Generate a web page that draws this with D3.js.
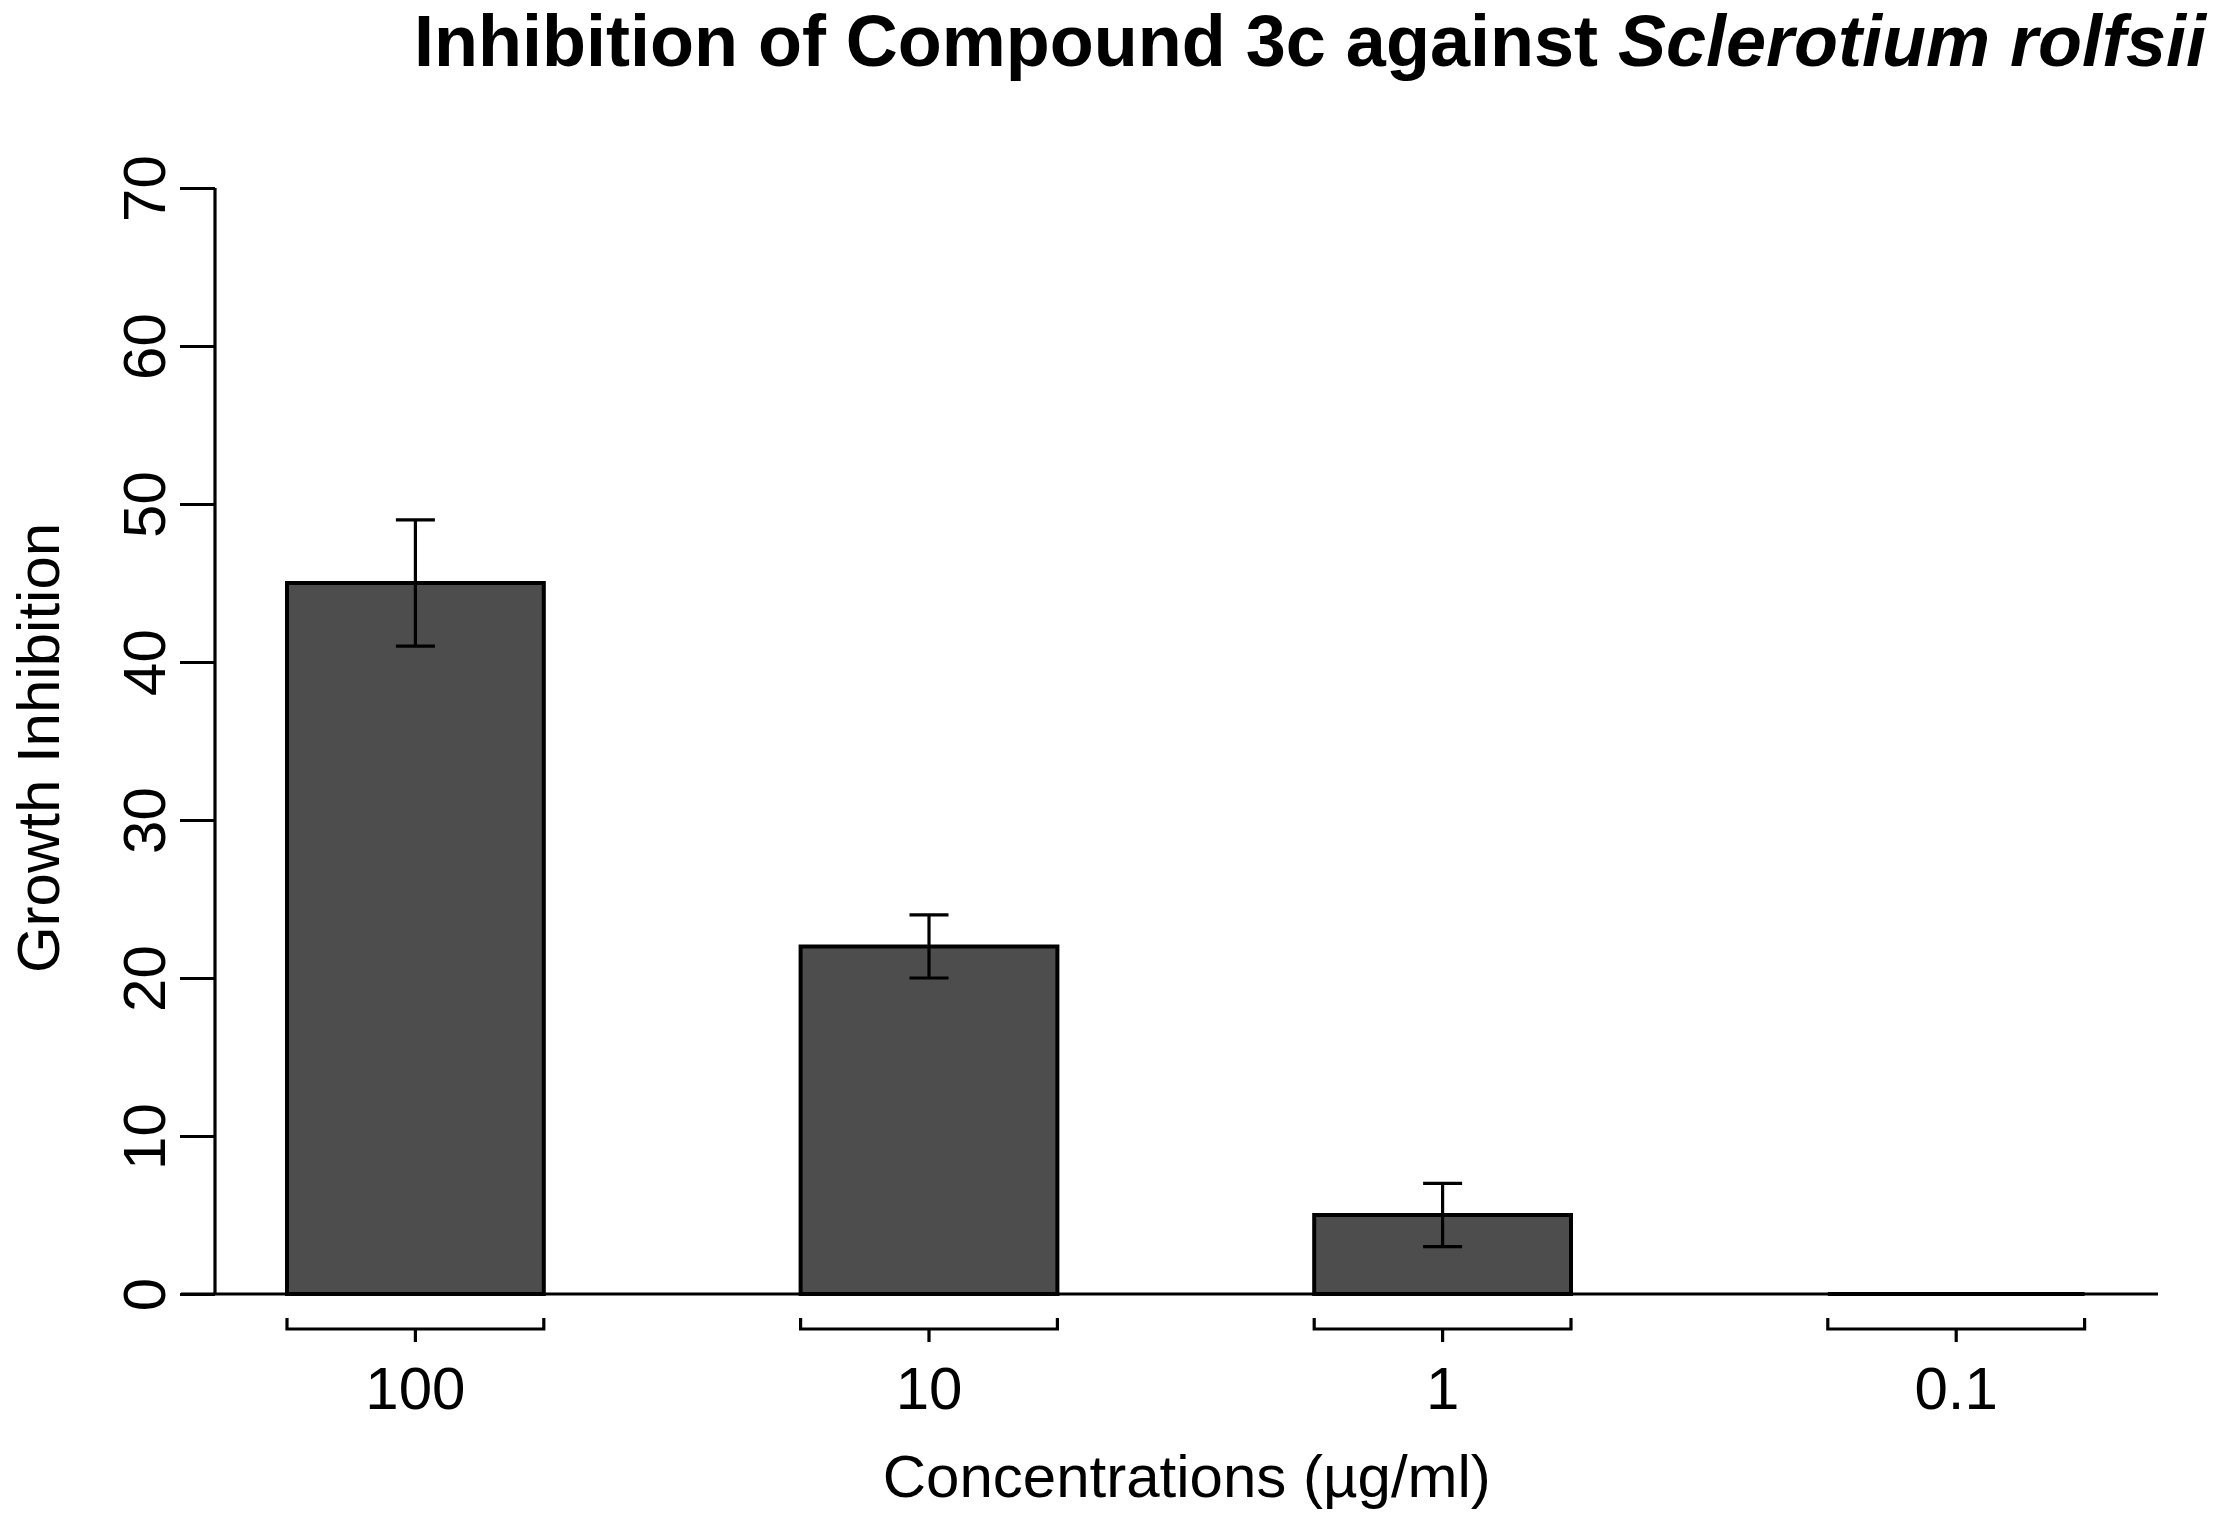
<!DOCTYPE html>
<html>
<head>
<meta charset="utf-8">
<script src="https://cdn.jsdelivr.net/npm/d3@7"></script>
<style>
  body { margin: 0; background: #fff; }
  text { font-family: "Liberation Sans", Arial, sans-serif; fill: #000; }
</style>
</head>
<body>
<div id="chart"></div>
<script>
// data
var concentrations = ["100", "10", "1", "0.1"]
var inhibition = [45, 22, 5, 0]
var errors = [4, 2, 2, 0]
var yTicks = [0, 10, 20, 30, 40, 50, 60, 70]

var W = 2217, H = 1524
var svg = d3.select("#chart").append("svg")
    .attr("width", W)
    .attr("height", H)

// scales
var x = d3.scaleBand()
    .domain(concentrations)
    .range([158.6, 2213])
    .paddingInner(0.5)
    .paddingOuter(0.25)

var y = d3.scaleLinear()
    .domain([0, 70])
    .range([1294, 188])

var data = concentrations.map(function (c, i) {
    return { c: c, v: inhibition[i], e: errors[i] }
})

// title
var title = svg.append("text")
    .attr("x", 414)
    .attr("y", 66)
    .style("font-size", "72px")
    .style("font-weight", "bold")
title.append("tspan").text("Inhibition of Compound 3c against ")
title.append("tspan").style("font-style", "italic").text("Sclerotium rolfsii")

// y axis
var yAxis = d3.axisLeft(y)
    .tickValues(yTicks)
    .tickSize(35)
    .tickPadding(0)
    .tickFormat(d3.format("d"))

var gy = svg.append("g")
    .attr("transform", "translate(215,0)")
    .call(yAxis)
gy.select(".domain").attr("d", "M0," + y(70) + "V" + y(0))
    .attr("stroke", "#000").attr("stroke-width", 3.2)
gy.selectAll(".tick line").attr("stroke", "#000").attr("stroke-width", 3.2)
gy.selectAll(".tick text")
    .attr("x", null).attr("dy", null)
    .attr("transform", "translate(-50,0) rotate(-90)")
    .attr("text-anchor", "middle")
    .style("font-size", "60px")
    .style("font-family", "'Liberation Sans', Arial, sans-serif")

// baseline
svg.append("line")
    .attr("x1", 181).attr("x2", 2158)
    .attr("y1", y(0)).attr("y2", y(0))
    .attr("stroke", "#000").attr("stroke-width", 3.2)

// bars (paths so a zero-height bar still shows its border)
svg.selectAll("path.bar")
    .data(data)
    .enter().append("path")
    .attr("class", "bar")
    .attr("d", function (d) {
        var x0 = x(d.c), x1 = x(d.c) + x.bandwidth()
        return "M" + x0 + "," + y(0) + "V" + y(d.v) + "H" + x1 + "V" + y(0) + "Z"
    })
    .attr("fill", "#4d4d4d")
    .attr("stroke", "#000")
    .attr("stroke-width", 4)
    .attr("stroke-linejoin", "miter")

// error bars
var eb = svg.selectAll("g.err")
    .data(data.filter(function (d) { return d.e > 0 }))
    .enter().append("g")
    .attr("class", "err")
    .attr("stroke", "#000")
    .attr("stroke-width", 3.2)
eb.append("line")
    .attr("x1", function (d) { return x(d.c) + x.bandwidth() / 2 })
    .attr("x2", function (d) { return x(d.c) + x.bandwidth() / 2 })
    .attr("y1", function (d) { return y(d.v + d.e) })
    .attr("y2", function (d) { return y(d.v - d.e) })
eb.selectAll("line.cap")
    .data(function (d) { return [d.v + d.e, d.v - d.e].map(function (v) { return { c: d.c, v: v } }) })
    .enter().append("line")
    .attr("class", "cap")
    .attr("x1", function (d) { return x(d.c) + x.bandwidth() / 2 - 19.5 })
    .attr("x2", function (d) { return x(d.c) + x.bandwidth() / 2 + 19.5 })
    .attr("y1", function (d) { return y(d.v) })
    .attr("y2", function (d) { return y(d.v) })

// group brackets under the bars
var by = 1329
var br = svg.selectAll("g.bracket")
    .data(concentrations)
    .enter().append("g")
    .attr("class", "bracket")
br.append("path")
    .attr("d", function (c) {
        var x0 = x(c), x1 = x(c) + x.bandwidth(), xm = x(c) + x.bandwidth() / 2
        return "M" + x0 + "," + (by - 11) + "V" + by + "H" + x1 + "V" + (by - 11) +
            "M" + xm + "," + by + "V" + (by + 13)
    })
    .attr("fill", "none")
    .attr("stroke", "#000")
    .attr("stroke-width", 3.2)
br.append("text")
    .attr("x", function (c) { return x(c) + x.bandwidth() / 2 })
    .attr("y", 1409)
    .attr("text-anchor", "middle")
    .style("font-size", "60px")
    .text(function (c) { return c })

// axis titles
svg.append("text")
    .attr("x", (x.range()[0] + x.range()[1]) / 2 + 1)
    .attr("y", 1497)
    .attr("text-anchor", "middle")
    .style("font-size", "60px")
    .text("Concentrations (µg/ml)")

svg.append("text")
    .attr("transform", "translate(59,748) rotate(-90)")
    .attr("text-anchor", "middle")
    .style("font-size", "60px")
    .text("Growth Inhibition")
</script>
</body>
</html>
